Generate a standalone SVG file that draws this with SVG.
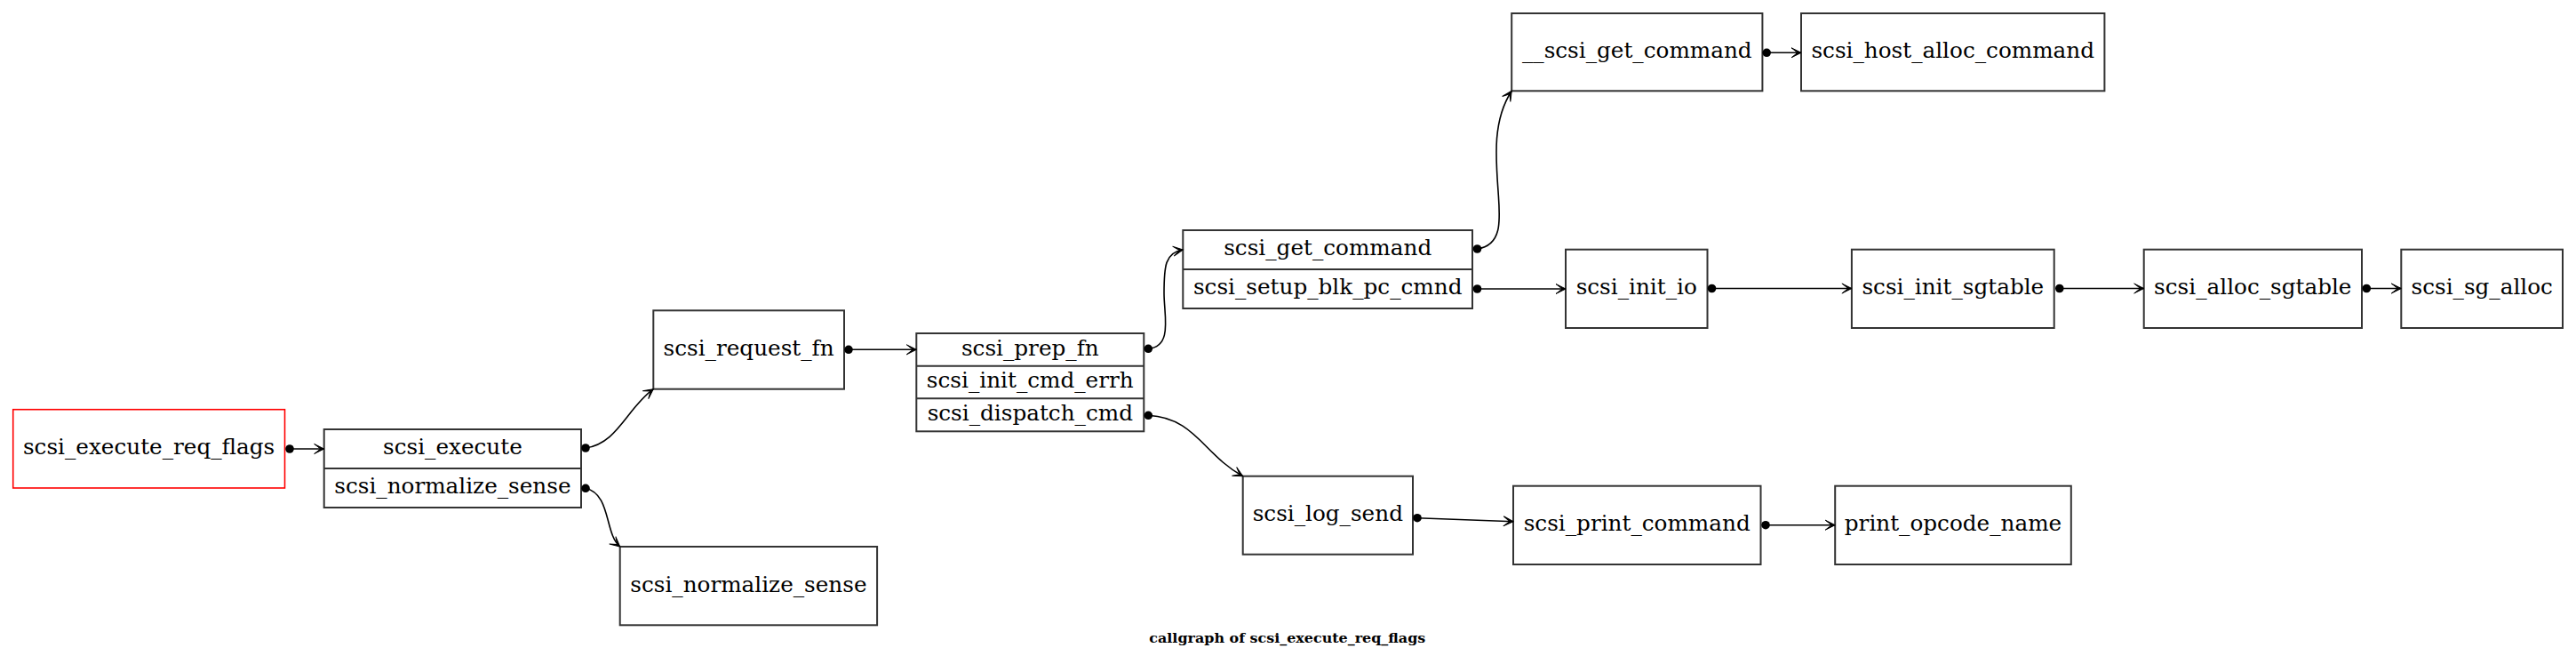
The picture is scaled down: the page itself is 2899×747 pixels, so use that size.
<svg xmlns="http://www.w3.org/2000/svg" width="2899" height="747" viewBox="0 0 2899 747">
<style>
.n rect{fill:#fff;stroke:#333;stroke-width:2}
.n line{stroke:#333;stroke-width:2}
.n text{font-family:"DejaVu Serif",serif;font-size:24.7px;fill:#000;text-anchor:middle}
#scsi_execute_req_flags rect{stroke:#f00;stroke-width:1.6}
.e path{fill:none;stroke:#000;stroke-width:1.6}
.e circle{fill:#000}
.t{font-family:"DejaVu Serif",serif;font-weight:bold;font-size:15px;text-anchor:middle;fill:#000}
</style>
<defs>
<marker id="vee" markerUnits="userSpaceOnUse" markerWidth="16" markerHeight="16" viewBox="-12 -8 14 16" refX="0" refY="0" orient="auto">
<path d="M0,0 L-11,-5.5 L-4,0 L-11,5.5 Z" fill="#000" stroke="#000" stroke-width="1"/>
</marker>
</defs>
<rect width="2899" height="747" fill="#fff"/>

<g id="scsi_execute_req_flags" class="n">
<rect x="14.7" y="460.7" width="305.8" height="88.3"/>
<text x="167.6" y="511">scsi_execute_req_flags</text>
</g>
<g id="scsi_execute" class="n">
<rect x="364.7" y="483" width="289.3" height="88"/>
<line x1="364.7" y1="527" x2="654" y2="527"/>
<text x="509.4" y="511">scsi_execute</text>
<text x="509.4" y="555">scsi_normalize_sense</text>
</g>
<g id="scsi_request_fn" class="n">
<rect x="735.3" y="349.3" width="214.7" height="88.4"/>
<text x="842.6" y="400">scsi_request_fn</text>
</g>
<g id="scsi_normalize_sense" class="n">
<rect x="697.7" y="615" width="289.4" height="88.3"/>
<text x="842.4" y="665.5">scsi_normalize_sense</text>
</g>
<g id="scsi_prep_fn" class="n">
<rect x="1031.3" y="375" width="256" height="110.3"/>
<line x1="1031.3" y1="411.7" x2="1287.3" y2="411.7"/>
<line x1="1031.3" y1="448.3" x2="1287.3" y2="448.3"/>
<text x="1159.3" y="399.5">scsi_prep_fn</text>
<text x="1159.3" y="436.2">scsi_init_cmd_errh</text>
<text x="1159.3" y="473">scsi_dispatch_cmd</text>
</g>
<g id="scsi_get_command" class="n">
<rect x="1331.3" y="259" width="325.7" height="88"/>
<line x1="1331.3" y1="303" x2="1657" y2="303"/>
<text x="1494.2" y="287">scsi_get_command</text>
<text x="1494.2" y="331">scsi_setup_blk_pc_cmnd</text>
</g>
<g id="__scsi_get_command" class="n">
<rect x="1701.2" y="15" width="282.2" height="87.3"/>
<text x="1842.3" y="65">__scsi_get_command</text>
</g>
<g id="scsi_host_alloc_command" class="n">
<rect x="2027" y="15" width="341.4" height="87.3"/>
<text x="2197.7" y="65">scsi_host_alloc_command</text>
</g>
<g id="scsi_init_io" class="n">
<rect x="1762" y="280.7" width="159.5" height="88.3"/>
<text x="1841.7" y="331">scsi_init_io</text>
</g>
<g id="scsi_init_sgtable" class="n">
<rect x="2083.9" y="280.7" width="227.8" height="88.3"/>
<text x="2197.8" y="331">scsi_init_sgtable</text>
</g>
<g id="scsi_alloc_sgtable" class="n">
<rect x="2412.7" y="280.7" width="245.3" height="88.3"/>
<text x="2535.3" y="331">scsi_alloc_sgtable</text>
</g>
<g id="scsi_sg_alloc" class="n">
<rect x="2702.3" y="280.7" width="181.7" height="88.3"/>
<text x="2793.2" y="331">scsi_sg_alloc</text>
</g>
<g id="scsi_log_send" class="n">
<rect x="1398.7" y="535.7" width="191.3" height="88"/>
<text x="1494.3" y="586">scsi_log_send</text>
</g>
<g id="scsi_print_command" class="n">
<rect x="1703" y="546.7" width="278.5" height="88.3"/>
<text x="1842.2" y="597">scsi_print_command</text>
</g>
<g id="print_opcode_name" class="n">
<rect x="2065.2" y="546.7" width="265.6" height="88.3"/>
<text x="2198" y="597">print_opcode_name</text>
</g>

<g id="edges" class="e">
<circle cx="326" cy="505" r="4.8"/>
<path d="M326,505 L364.7,505" marker-end="url(#vee)"/>
<circle cx="659" cy="504" r="4.8"/>
<path d="M659,504 C695,499 705,460 735.3,437.7" marker-end="url(#vee)"/>
<circle cx="659" cy="549.3" r="4.8"/>
<path d="M659,549.3 C688,556 680,600 697.7,615" marker-end="url(#vee)"/>
<circle cx="955" cy="393.3" r="4.8"/>
<path d="M955,393.3 L1031.3,393.3" marker-end="url(#vee)"/>
<circle cx="1292.3" cy="392.3" r="4.8"/>
<path d="M1292.3,392.3 C1320,390 1310,355 1310,330 C1310,300 1311,284 1331.3,281" marker-end="url(#vee)"/>
<circle cx="1292.3" cy="467.3" r="4.8"/>
<path d="M1292.3,467.3 C1345,470 1355,512 1398.7,535.7" marker-end="url(#vee)"/>
<circle cx="1662.5" cy="280" r="4.8"/>
<path d="M1662.5,280 C1692,276 1688,245 1686,215 C1683,175 1680,135 1701.2,102.3" marker-end="url(#vee)"/>
<circle cx="1662.5" cy="325" r="4.8"/>
<path d="M1662.5,325 L1762,325" marker-end="url(#vee)"/>
<circle cx="1988.2" cy="59.3" r="4.8"/>
<path d="M1988.2,59.3 L2027,59.3" marker-end="url(#vee)"/>
<circle cx="1926.5" cy="324.5" r="4.8"/>
<path d="M1926.5,324.5 L2083.9,324.5" marker-end="url(#vee)"/>
<circle cx="2317.8" cy="324.5" r="4.8"/>
<path d="M2317.8,324.5 L2412.7,324.5" marker-end="url(#vee)"/>
<circle cx="2663.3" cy="324.5" r="4.8"/>
<path d="M2663.3,324.5 L2702.3,324.5" marker-end="url(#vee)"/>
<circle cx="1595" cy="582.7" r="4.8"/>
<path d="M1595,582.7 L1703,586.7" marker-end="url(#vee)"/>
<circle cx="1987" cy="590.7" r="4.8"/>
<path d="M1987,590.7 L2065.2,590.7" marker-end="url(#vee)"/>
</g>

<text class="t" x="1448.8" y="722.7" textLength="311" lengthAdjust="spacingAndGlyphs">callgraph of scsi_execute_req_flags</text>
</svg>
